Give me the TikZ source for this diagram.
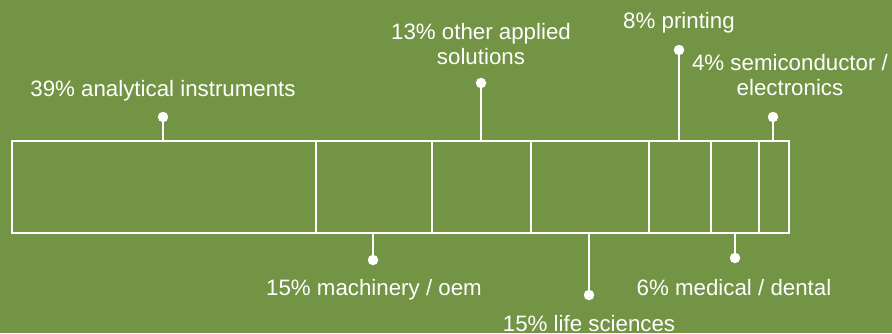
\documentclass[tikz,border=0pt]{standalone}
\usepackage{fontspec}
\setmainfont{Liberation Sans}
\definecolor{bg}{HTML}{729444}
\begin{document}
\begin{tikzpicture}[x=1pt,y=-1pt,
  seg/.style={draw=white,line width=2.2pt},
  lead/.style={draw=white,line width=2.2pt},
  dotc/.style={circle,fill=white,inner sep=0pt,minimum size=10.5pt},
  lab/.style={text=white,font=\fontsize{22.3}{25}\selectfont,align=center,inner sep=0pt}]
\fill[bg] (0,0) rectangle (892,333);
\useasboundingbox (0,0) rectangle (892,333);
% segments
\coordinate (b0t) at (12,141); \coordinate (b0b) at (12,233);
\foreach \n/\x in {1/316,2/432,3/531,4/649,5/711,6/759,7/789}{
  \coordinate (b\n t) at (\x,141); \coordinate (b\n b) at (\x,233);}
\draw[seg] (b0t) rectangle (b7b);
\foreach \n in {1,...,6}{\draw[seg] (b\n t) -- (b\n b);}
% leaders
\coordinate (t1) at (163,141); \node[dotc] (d1) at (163,117) {};
\coordinate (t2) at (481,141); \node[dotc] (d2) at (481,83) {};
\coordinate (t3) at (679,141); \node[dotc] (d3) at (679,50) {};
\coordinate (t4) at (773,141); \node[dotc] (d4) at (773,117) {};
\coordinate (u1) at (373,233); \node[dotc] (e1) at (373,260) {};
\coordinate (u2) at (589,233); \node[dotc] (e2) at (589,295) {};
\coordinate (u3) at (735,233); \node[dotc] (e3) at (735,258) {};
\foreach \a/\b in {t1/d1,t2/d2,t3/d3,t4/d4,u1/e1,u2/e2,u3/e3}{\draw[lead] (\a) -- (\b.center);}
% labels
\node[lab] (l1) at (163,91) {39\% analytical instruments};
\node[lab] (l2) at (481,44) {13\% other applied\\solutions};
\node[lab] (l3) at (679,23) {8\% printing};
\node[lab] (l4) at (790,75) {4\% semiconductor /\\electronics};
\node[lab] (l5) at (374,290) {15\% machinery / oem};
\node[lab] (l6) at (589,324) {15\% life sciences};
\node[lab] (l7) at (734,288) {6\% medical / dental};
\end{tikzpicture}
\end{document}
